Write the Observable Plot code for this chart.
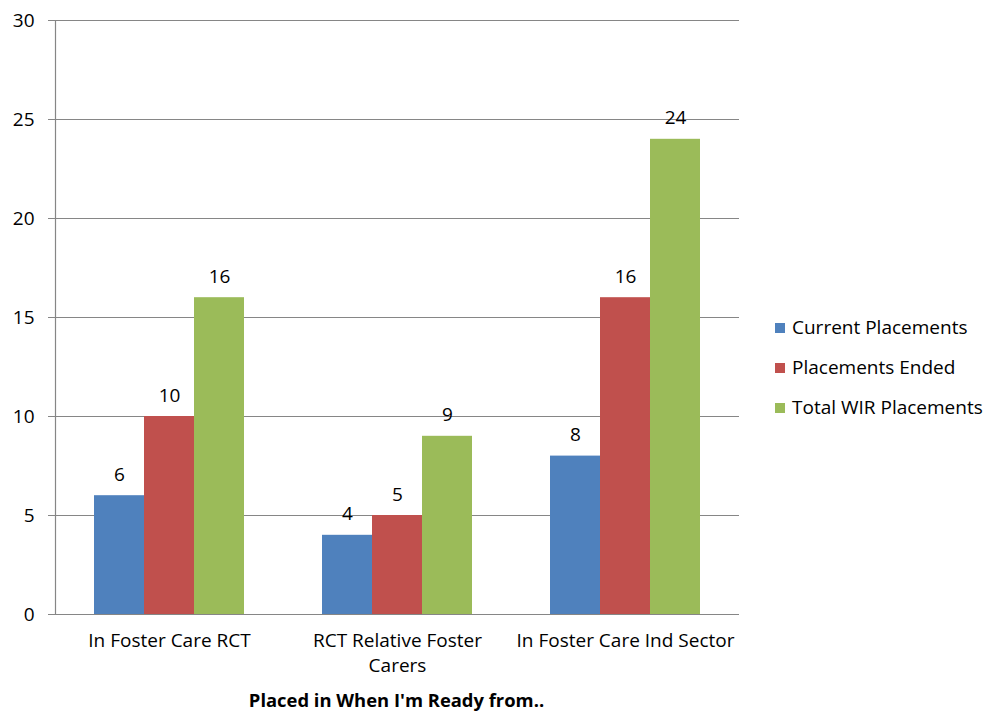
<!DOCTYPE html>
<html><head><meta charset="utf-8">
<script src="https://cdn.jsdelivr.net/npm/d3@7"></script>
<script src="https://cdn.jsdelivr.net/npm/@observablehq/plot@0.6"></script>
<style>
body{margin:0;background:#fff;font-family:"Open Sans",sans-serif;}
#wrap{position:relative;width:988px;height:711px;}
#wrap svg{position:absolute;left:0;top:0;}
#legend{position:absolute;left:775px;top:314px;font-size:19px;line-height:26px;color:#000;}
#legend .row{height:40px;display:flex;align-items:flex-start;}
#legend .sw{width:10px;height:10px;margin-top:9px;margin-right:7px;}
#xtitle{position:absolute;left:54px;width:685px;top:687px;text-align:center;font-weight:bold;font-size:18.4px;line-height:26px;color:#000;}
</style></head><body><div id="wrap"></div>
<script>
const categories = ["In Foster Care RCT","RCT Relative Foster Carers","In Foster Care Ind Sector"];
const categoryLabels = ["In Foster Care RCT","RCT Relative Foster\nCarers","In Foster Care Ind Sector"];
const series = ["Current Placements","Placements Ended","Total WIR Placements"];
const currentPlacements = [6,4,8];
const placementsEnded = [10,5,16];
const totalWIR = [16,9,24];
const colors = ["#4F81BD","#C0504D","#9BBB59"];
const yTicks = [0,5,10,15,20,25,30];
const xTitle = "Placed in When I'm Ready from..";

const seriesValues = [currentPlacements, placementsEnded, totalWIR];
const data = [];
categories.forEach((c, i) => series.forEach((s, j) => data.push({category: c, series: s, value: seriesValues[j][i]})));

const plot = Plot.plot({
  width: 988, height: 711,
  marginLeft: 54, marginRight: 249, marginTop: 20, marginBottom: 97,
  style: {fontFamily: "Open Sans", fontSize: "19px", color: "#000", background: "#fff"},
  fx: {domain: categories, padding: 0, label: null},
  x: {domain: series, paddingInner: 0, paddingOuter: 0.74, axis: null},
  y: {domain: [0, 30], label: null},
  color: {domain: series, range: colors},
  marks: [
    Plot.ruleY(yTicks, {stroke: "#868686", strokeWidth: 1.2}),
    Plot.frame({anchor: "left", stroke: "#868686", strokeWidth: 1.2, facetAnchor: "left"}),
    Plot.axisY(yTicks, {tickSize: 7, tickPadding: 14, stroke: "#868686", fill: "#000", fontSize: 19, label: null}),
    Plot.barY(data, {fx: "category", x: "series", y: "value", fill: "series"}),
    Plot.text(data, {fx: "category", x: "series", y: "value", text: d => String(d.value), dy: -21, fontSize: 19, fill: "#000"}),
    Plot.axisFx({anchor: "bottom", tickSize: 0, tickPadding: 15, label: null, fontSize: 19, lineHeight: 1.32, fill: "#000",
      tickFormat: d => categoryLabels[categories.indexOf(d)]})
  ]
});
const wrap = document.getElementById("wrap");
wrap.appendChild(plot);

const legend = document.createElement("div");
legend.id = "legend";
series.forEach((s, i) => {
  const row = document.createElement("div");
  row.className = "row";
  const sw = document.createElement("div");
  sw.className = "sw";
  sw.style.background = colors[i];
  const t = document.createElement("span");
  t.textContent = s;
  row.appendChild(sw); row.appendChild(t);
  legend.appendChild(row);
});
wrap.appendChild(legend);

const xt = document.createElement("div");
xt.id = "xtitle";
xt.textContent = xTitle;
wrap.appendChild(xt);
</script></body></html>
